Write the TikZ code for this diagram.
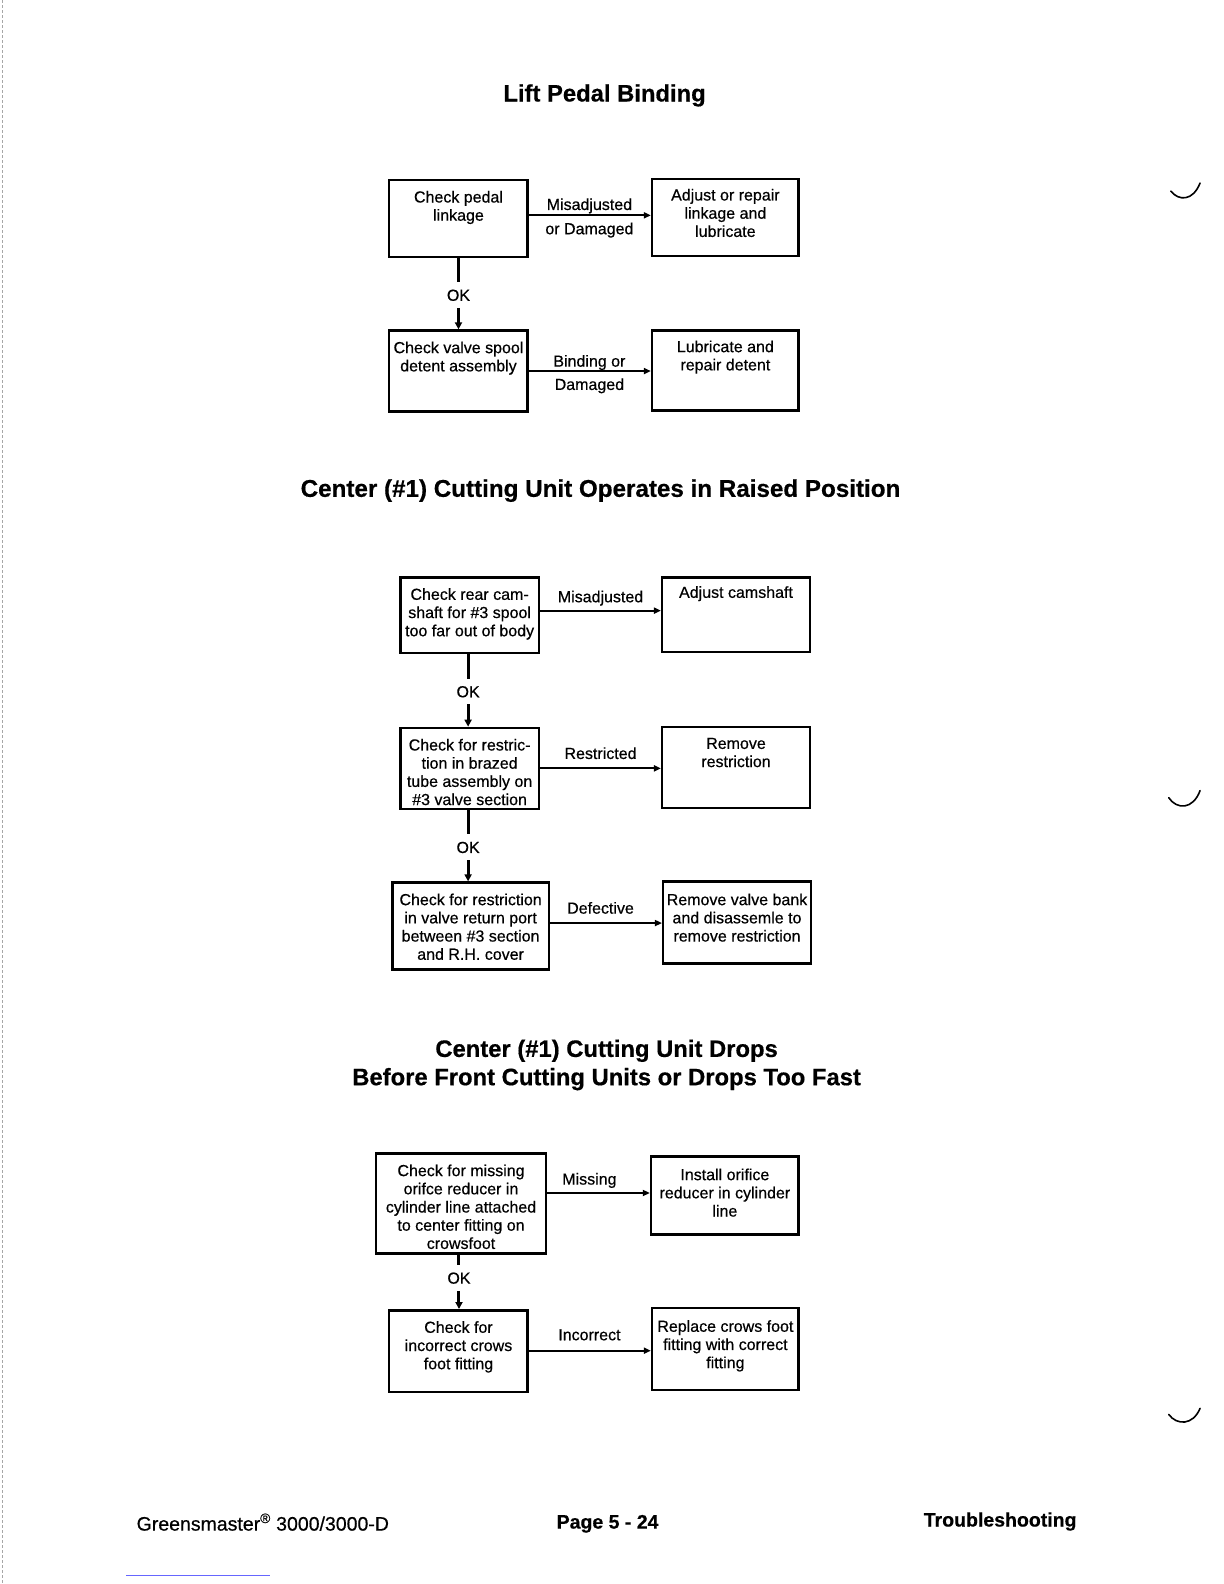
\documentclass[tikz,border=0pt]{standalone}
\usepackage{fontspec}
\setmainfont{Liberation Sans}[FakeBold=0.5]
\usetikzlibrary{arrows.meta,fit}
\begin{document}
\begin{tikzpicture}[x=1.011pt,y=-1.011pt,
  box/.style={draw, line width=2.5pt, inner sep=0pt},
  txt/.style={font=\fontsize{16}{18.2}\selectfont, align=center, inner sep=0pt, anchor=north},
  lbl/.style={font=\fontsize{16}{18}\selectfont, inner sep=0pt, text height=11.5pt, text depth=0pt},
  oklbl/.style={lbl, inner ysep=7pt},
  conn/.style={line width=2pt, -{Triangle[length=7pt,width=6pt]}},
  okline/.style={line width=3pt},
  okarrow/.style={line width=3pt, -{Triangle[length=7pt,width=7pt]}},
  title/.style={font=\fontsize{23.8}{28}\selectfont\bfseries, inner sep=0pt, text height=17pt, text depth=0pt},
  foot/.style={font=\fontsize{19.5}{22}\selectfont, inner sep=0pt, text height=14pt, text depth=0pt},
  scanmark/.style={line width=1.6pt, line cap=round},
]
\useasboundingbox (0,0) rectangle (1210.68,1566.77);
\fill[white] (0,0) rectangle (1210.68,1566.77);
\draw[gray!70, line width=0.8pt, dash pattern=on 3pt off 2pt] (2,0) -- (2,1566.77);

% ---------- Section 1 ----------
\node[title] (t1) at (598,92) {Lift Pedal Binding};

\node[box, fit={(385,178) (522,254)}] (a1) {};
\node[box, fit={(645,177) (790,253)}] (b1) {};
\node[box, fit={(385,327) (522,407)}] (a2) {};
\node[box, fit={(645,327) (790,406)}] (b2) {};

\node[txt] (a1t) at ([yshift=-12pt]a1.north) {Check pedal\\linkage};
\node[txt] (b1t) at ([yshift=-11pt]b1.north) {Adjust or repair\\linkage and\\lubricate};
\node[txt] (a2t) at ([yshift=-12pt]a2.north) {Check valve spool\\detent assembly};
\node[txt] (b2t) at ([yshift=-11pt]b2.north) {Lubricate and\\repair detent};

\coordinate (r1) at (0,213);
\coordinate (r2) at (0,367);
\draw[conn] (a1.east |- r1) -- (b1.west |- r1);
\draw[conn] (a2.east |- r2) -- (b2.west |- r2);
\node[lbl] (l1a) at (583,202) {Misadjusted};
\node[lbl] (l1b) at (583,226) {or Damaged};
\node[lbl] (l2a) at (583,357) {Binding or};
\node[lbl] (l2b) at (583,380) {Damaged};

\node[oklbl] (ok1) at ([yshift=-37pt]a1.south) {OK};
\draw[okline] (a1.south) -- (ok1.north);
\draw[okarrow] (ok1.south) -- (ok1.south |- a2.north);

% ---------- Section 2 ----------
\node[title, font=\fontsize{24.2}{28}\selectfont\bfseries] (t2) at (594,483) {Center (\#1) Cutting Unit Operates in Raised Position};

\node[box, fit={(396,571) (533,646)}] (c1) {};
\node[box, fit={(655,571) (801,645)}] (d1) {};
\node[box, fit={(396,720) (533,800)}] (c2) {};
\node[box, fit={(655,719) (801,799)}] (d2) {};
\node[box, fit={(388,873) (543,959)}] (c3) {};
\node[box, fit={(656,872) (802,953)}] (d3) {};

\node[txt] (c1t) at ([yshift=-12pt]c1.north) {Check rear cam-\\shaft for \#3 spool\\too far out of body};
\node[txt] (d1t) at ([yshift=-10pt]d1.north) {Adjust camshaft};
\node[txt] (c2t) at ([yshift=-12pt]c2.north) {Check for restric-\\tion in brazed\\tube assembly on\\\#3 valve section};
\node[txt] (d2t) at ([yshift=-12pt]d2.north) {Remove\\restriction};
\node[txt] (c3t) at ([yshift=-12pt]c3.north) {Check for restriction\\in valve return port\\between \#3 section\\and R.H. cover};
\node[txt] (d3t) at ([yshift=-13pt]d3.north) {Remove valve bank\\and disassemle to\\remove restriction};

\coordinate (r3) at (0,604);
\coordinate (r4) at (0,760);
\coordinate (r5) at (0,913);
\draw[conn] (c1.east |- r3) -- (d1.west |- r3);
\draw[conn] (c2.east |- r4) -- (d2.west |- r4);
\draw[conn] (c3.east |- r5) -- (d3.west |- r5);
\node[lbl] (l3) at (594,590) {Misadjusted};
\node[lbl] (l4) at (594,745) {Restricted};
\node[lbl] (l5) at (594,898) {Defective};

\coordinate (x2) at (463,0);
\coordinate (y2) at (0,684);
\coordinate (y3) at (0,838);
\node[oklbl] (ok2) at (x2 |- y2) {OK};
\node[oklbl] (ok3) at (x2 |- y3) {OK};
\draw[okline] (ok2.north |- c1.south) -- (ok2.north);
\draw[okarrow] (ok2.south) -- (ok2.south |- c2.north);
\draw[okline] (ok3.north |- c2.south) -- (ok3.north);
\draw[okarrow] (ok3.south) -- (ok3.south |- c3.north);

% ---------- Section 3 ----------
\node[title] (t3a) at (600,1037) {Center (\#1) Cutting Unit Drops};
\node[title] (t3b) at (600,1065) {Before Front Cutting Units or Drops Too Fast};

\node[box, fit={(372,1141) (540,1240)}] (e1) {};
\node[box, fit={(644,1144) (790,1221)}] (f1) {};
\node[box, fit={(385,1296) (522,1377)}] (e2) {};
\node[box, fit={(645,1294) (790,1375)}] (f2) {};

\node[txt] (e1t) at ([yshift=-12pt]e1.north) {Check for missing\\orifce reducer in\\cylinder line attached\\to center fitting on\\crowsfoot};
\node[txt] (f1t) at ([yshift=-13pt]f1.north) {Install orifice\\reducer in cylinder\\line};
\node[txt] (e2t) at ([yshift=-12pt]e2.north) {Check for\\incorrect crows\\foot fitting};
\node[txt] (f2t) at ([yshift=-13pt]f2.north) {Replace crows foot\\fitting with correct\\fitting};

\coordinate (r6) at (0,1180);
\coordinate (r7) at (0,1336);
\draw[conn] (e1.east |- r6) -- (f1.west |- r6);
\draw[conn] (e2.east |- r7) -- (f2.west |- r7);
\node[lbl] (l6) at (583,1166) {Missing};
\node[lbl] (l7) at (583,1320) {Incorrect};

\node[oklbl] (ok4) at (454,1264) {OK};
\draw[okline] (ok4.north |- e1.south) -- (ok4.north);
\draw[okarrow] (ok4.south) -- (ok4.south |- e2.north);

% ---------- Footer ----------
\node[foot, anchor=west] (fl) at (135,1507) {Greensmaster\textsuperscript{®} 3000/3000-D};
\node[foot, font=\fontsize{19.5}{22}\selectfont\bfseries] (fc) at (601,1505) {Page 5 - 24};
\node[foot, font=\fontsize{19.5}{22}\selectfont\bfseries, anchor=east] (fr) at (1065,1503) {Troubleshooting};

% ---------- scan marks ----------
\draw[scanmark] (1158,189) .. controls (1166,199) and (1180,199) .. (1187,181);
\draw[scanmark] (1156,789) .. controls (1164,801) and (1180,801) .. (1187,782);
\draw[scanmark] (1156,1399) .. controls (1164,1410) and (1180,1410) .. (1187,1393);
\draw[blue!60, line width=1pt] (125,1558) -- (267,1558);
\end{tikzpicture}
\end{document}
